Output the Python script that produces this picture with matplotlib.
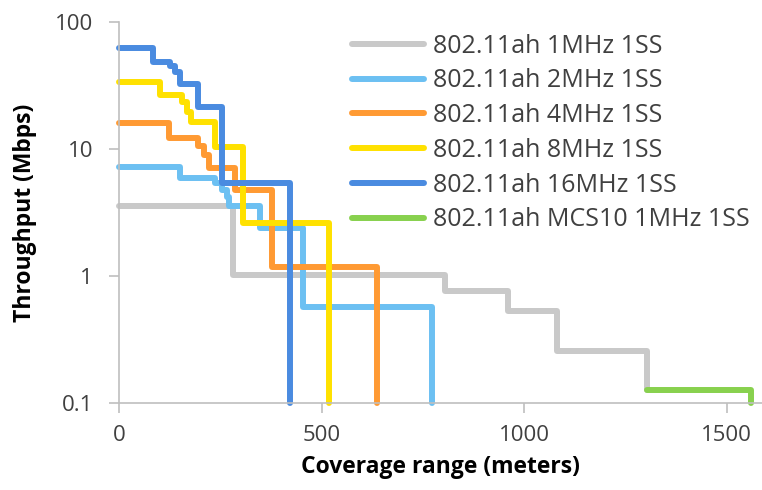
import matplotlib.pyplot as plt
from matplotlib.ticker import FixedLocator, FixedFormatter, NullLocator

# Coverage range (m) vs throughput (Mbps), step curves
gray_x = [0, 281, 281, 804, 804, 960, 960, 1081, 1081, 1302, 1302]
gray_y = [3.57, 3.57, 1.02, 1.02, 0.77, 0.77, 0.53, 0.53, 0.26, 0.26, 0.127]

ltblue_x = [0, 150, 150, 236, 236, 253, 253, 265, 265, 272, 272, 347, 347, 454, 454, 771, 771]
ltblue_y = [7.19, 7.19, 5.89, 5.89, 5.38, 5.38, 4.77, 4.77, 4.2, 4.2, 3.6, 3.6, 2.38, 2.38,
            0.575, 0.575, 0.1]

orange_x = [0, 123, 123, 195, 195, 208, 208, 222, 222, 286, 286, 376, 376, 636, 636]
orange_y = [16.1, 16.1, 12.2, 12.2, 10.6, 10.6, 9.0, 9.0, 7.07, 7.07, 4.77, 4.77, 1.19, 1.19, 0.1]

yellow_x = [0, 100, 100, 154, 154, 166, 166, 178, 178, 236, 236, 306, 306, 518, 518]
yellow_y = [33.9, 33.9, 26.6, 26.6, 23.6, 23.6, 19.7, 19.7, 16.4, 16.4, 10.4, 10.4, 2.61, 2.61, 0.1]

blue_x = [0, 82, 82, 125, 125, 137, 137, 150, 150, 195, 195, 253, 253, 422, 422]
blue_y = [62, 62, 48.7, 48.7, 44.9, 44.9, 40.6, 40.6, 32.4, 32.4, 21.6, 21.6, 5.38, 5.38, 0.1]

green_x = [1302, 1561, 1561]
green_y = [0.127, 0.127, 0.1]

labels = ["802.11ah 1MHz 1SS", "802.11ah 2MHz 1SS", "802.11ah 4MHz 1SS",
          "802.11ah 8MHz 1SS", "802.11ah 16MHz 1SS", "802.11ah MCS10 1MHz 1SS"]
colors = ["#C9C9C9", "#6CC0F2", "#FF9A33", "#FFE100", "#4A8BE0", "#88D14E"]

series = [(gray_x, gray_y), (ltblue_x, ltblue_y), (orange_x, orange_y),
          (yellow_x, yellow_y), (blue_x, blue_y), (green_x, green_y)]

plt.rcParams["font.family"] = ["Open Sans", "DejaVu Sans"]

fig = plt.figure(figsize=(7.62, 4.90), dpi=100)
ax = fig.add_axes([0.1566, 0.177, 0.8434, 0.778])

for (xs, ys), lab, c in zip(series, labels, colors):
    ax.plot(xs, ys, color=c, lw=4.3, label=lab, solid_capstyle="round",
            solid_joinstyle="round", clip_on=False)

ax.set_yscale("log")
ax.set_ylim(0.1, 100)
ax.set_xlim(0, 1587)

ax.yaxis.set_major_locator(FixedLocator([0.1, 1, 10, 100]))
ax.yaxis.set_major_formatter(FixedFormatter(["0.1", "1", "10", "100"]))
ax.yaxis.set_minor_locator(NullLocator())
ax.set_xticks([0, 500, 1000, 1500])

for s in ["top", "right"]:
    ax.spines[s].set_visible(False)
for s in ["left", "bottom"]:
    ax.spines[s].set_color("#BFBFBF")
    ax.spines[s].set_linewidth(1.2)

ax.tick_params(axis="both", which="major", length=7, width=1.2, color="#BFBFBF",
               labelsize=16, labelcolor="#404040")
ax.tick_params(axis="y", pad=12)
ax.tick_params(axis="x", pad=9)

ax.set_xlabel("Coverage range (meters)", fontsize=16.5, fontweight="bold")
ax.set_ylabel("Throughput (Mbps)", fontsize=16.5, fontweight="bold")
ax.xaxis.set_label_coords(0.5, -0.137)
ax.yaxis.set_label_coords(-0.128, 0.5)

leg = ax.legend(loc="upper left", bbox_to_anchor=(0.449, 0.952),
                bbox_transform=fig.transFigure, borderaxespad=0, frameon=False,
                fontsize=18, handlelength=2.88, handletextpad=0.34, labelspacing=0.39)
for t in leg.get_texts():
    t.set_color("#404040")

fig.savefig("out.png", dpi=100)
